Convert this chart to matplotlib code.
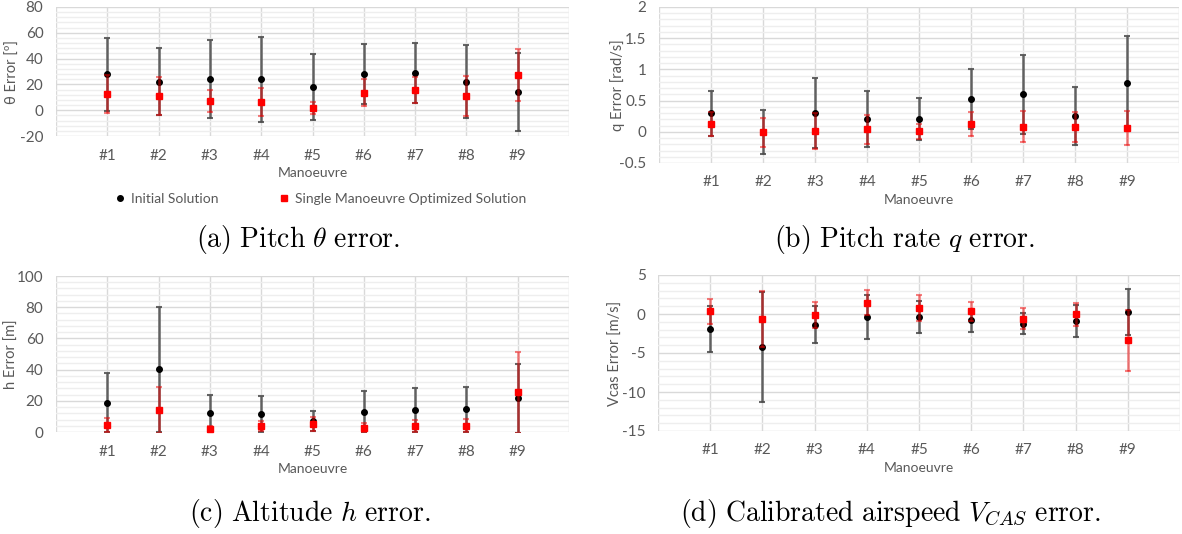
import matplotlib
matplotlib.use('Agg')
import matplotlib.pyplot as plt
from matplotlib.ticker import MultipleLocator, FuncFormatter
from matplotlib.lines import Line2D
import numpy as np

# ---------------- data ----------------
categories = ['#1', '#2', '#3', '#4', '#5', '#6', '#7', '#8', '#9']

theta_init_mean = [27.7, 22.2, 24.3, 23.8, 17.8, 27.9, 29.0, 22.2, 14.2]
theta_init_err = [28.4, 26.2, 30.2, 32.9, 25.6, 23.1, 23.3, 28.6, 30.5]
theta_opt_mean = [12.4, 11.3, 7.2, 6.2, 1.5, 13.7, 15.8, 11.1, 27.2]
theta_opt_err = [14.6, 14.7, 8.7, 10.9, 4.6, 10.4, 9.9, 15.3, 20.2]

q_init_mean = [0.30, 0.0, 0.30, 0.205, 0.205, 0.526, 0.60, 0.253, 0.782]
q_init_err = [0.36, 0.35, 0.56, 0.45, 0.33, 0.48, 0.63, 0.46, 0.76]
q_opt_mean = [0.12, -0.01, 0.013, 0.04, 0.007, 0.12, 0.082, 0.07, 0.061]
q_opt_err = [0.19, 0.23, 0.29, 0.23, 0.12, 0.19, 0.25, 0.24, 0.28]

h_init_mean = [18.8, 40.1, 11.9, 11.3, 6.8, 12.8, 14.1, 14.5, 21.5]
h_init_err = [18.9, 39.9, 11.8, 11.5, 6.4, 13.2, 14.3, 14.3, 22.2]
h_opt_mean = [4.3, 14.3, 1.9, 3.6, 4.9, 2.8, 3.8, 4.1, 25.6]
h_opt_err = [4.4, 14.7, 1.7, 3.2, 4.5, 2.7, 3.9, 4.0, 26.0]

v_init_mean = [-1.92, -4.27, -1.37, -0.38, -0.38, -0.81, -1.24, -0.94, 0.26]
v_init_err = [3.0, 7.05, 2.4, 2.8, 2.05, 1.5, 1.35, 2.05, 3.0]
v_opt_mean = [0.34, -0.68, -0.13, 1.45, 0.77, 0.34, -0.6, -0.04, -3.38]
v_opt_err = [1.56, 3.6, 1.7, 1.58, 1.73, 1.2, 1.37, 1.5, 3.9]

series_labels = ['Initial Solution', 'Single Manoeuvre Optimized Solution']

# ---------------- style ----------------
plt.rcParams['font.family'] = ['Lato', 'DejaVu Sans']
plt.rcParams['axes.unicode_minus'] = False
plt.rcParams['mathtext.fontset'] = 'cm'

TXT = '#595959'
GRID = '#d9d9d9'
MINOR = '#eeeeee'
W, H = 1182, 534

fig = plt.figure(figsize=(W / 100, H / 100), dpi=100)


def px_axes(left, top, right, bottom):
    return fig.add_axes([left / W, 1 - bottom / H, (right - left) / W, (bottom - top) / H])


def general_fmt(v, pos):
    s = ('%.2f' % v).rstrip('0').rstrip('.')
    return '0' if s in ('-0', '') else s


def panel(ax, init_m, init_e, opt_m, opt_e, ylim, major, minor, ylabel, ylabel_x):
    x = np.arange(1, len(categories) + 1)
    ax.set_xlim(0, len(categories) + 1)
    ax.set_ylim(*ylim)
    ax.set_xticks(np.arange(0, len(categories) + 2))
    ax.set_xticklabels([''] + categories + [''])
    ax.yaxis.set_major_locator(MultipleLocator(major))
    ax.yaxis.set_minor_locator(MultipleLocator(minor))
    ax.yaxis.set_major_formatter(FuncFormatter(general_fmt))
    ax.grid(True, which='major', color=GRID, lw=1.0, zorder=0)
    ax.grid(True, which='minor', axis='y', color=MINOR, lw=1.0, zorder=0)
    ax.set_axisbelow(True)
    for s in ax.spines.values():
        s.set_visible(False)
    ax.tick_params(which='both', length=0, colors=TXT, labelsize=11, pad=9)
    ax.set_ylabel(ylabel, color=TXT, fontsize=10.5)
    ax.yaxis.set_label_coords(ylabel_x, 0.5)
    ax.set_xlabel('Manoeuvre', color=TXT, fontsize=10, labelpad=3)

    ax.errorbar(x, init_m, yerr=init_e, fmt='none', ecolor='#4a4a4a', alpha=0.85,
                elinewidth=1.8, capsize=2.2, capthick=1.5, zorder=3)
    ax.plot(x, init_m, 'o', color='black', ms=4, zorder=4, clip_on=False)
    ax.errorbar(x, opt_m, yerr=opt_e, fmt='none', ecolor='#ee0000', alpha=0.5,
                elinewidth=1.8, capsize=2.2, capthick=1.5, zorder=5)
    ax.plot(x, opt_m, 's', color='#ff0000', ms=4.5, zorder=6, clip_on=False)


ax_a = px_axes(56, 7, 569, 136)
panel(ax_a, theta_init_mean, theta_init_err, theta_opt_mean, theta_opt_err,
      (-20, 80), 20, 4, 'θ Error [º]', (20 - 56) / 513)
ax_b = px_axes(659, 7, 1179, 163)
panel(ax_b, q_init_mean, q_init_err, q_opt_mean, q_opt_err,
      (-0.5, 2), 0.5, 0.1, 'q Error [rad/s]', (625 - 659) / 520)
ax_c = px_axes(56, 276, 569, 432)
panel(ax_c, h_init_mean, h_init_err, h_opt_mean, h_opt_err,
      (0, 100), 20, 4, 'h Error [m]', (19 - 56) / 513)
ax_d = px_axes(658, 275, 1180, 431)
panel(ax_d, v_init_mean, v_init_err, v_opt_mean, v_opt_err,
      (-15, 5), 5, 1, 'Vcas Error [m/s]', (623 - 658) / 522)

# legend (panel a): one entry per series, placed at its own position
handles = [Line2D([], [], ls='none', marker='o', color='black', ms=4),
           Line2D([], [], ls='none', marker='s', color='#ff0000', ms=4.5)]
for h, lab, xl in zip(handles, series_labels, [114, 278]):
    fig.legend([h], [lab], loc='center left', bbox_to_anchor=(xl / W, 1 - 199 / H),
               frameon=False, fontsize=10, labelcolor=TXT, handlelength=0.8,
               handletextpad=0.4, borderpad=0, borderaxespad=0)

# captions
cap_fs = 20
fig.text(298 / W, 1 - 240 / H, r'$\mathrm{(a)\ Pitch\ }\theta\mathrm{\ error.}$',
         ha='center', va='center', fontsize=cap_fs)
fig.text(905 / W, 1 - 240 / H, r'$\mathrm{(b)\ Pitch\ rate\ }q\mathrm{\ error.}$',
         ha='center', va='center', fontsize=cap_fs)
fig.text(310 / W, 1 - 514 / H, r'$\mathrm{(c)\ Altitude\ }h\mathrm{\ error.}$',
         ha='center', va='center', fontsize=cap_fs)
fig.text(890 / W, 1 - 514 / H, r'$\mathrm{(d)\ Calibrated\ airspeed\ }V_{CAS}\mathrm{\ error.}$',
         ha='center', va='center', fontsize=cap_fs)

fig.savefig('out.png', dpi=100)
